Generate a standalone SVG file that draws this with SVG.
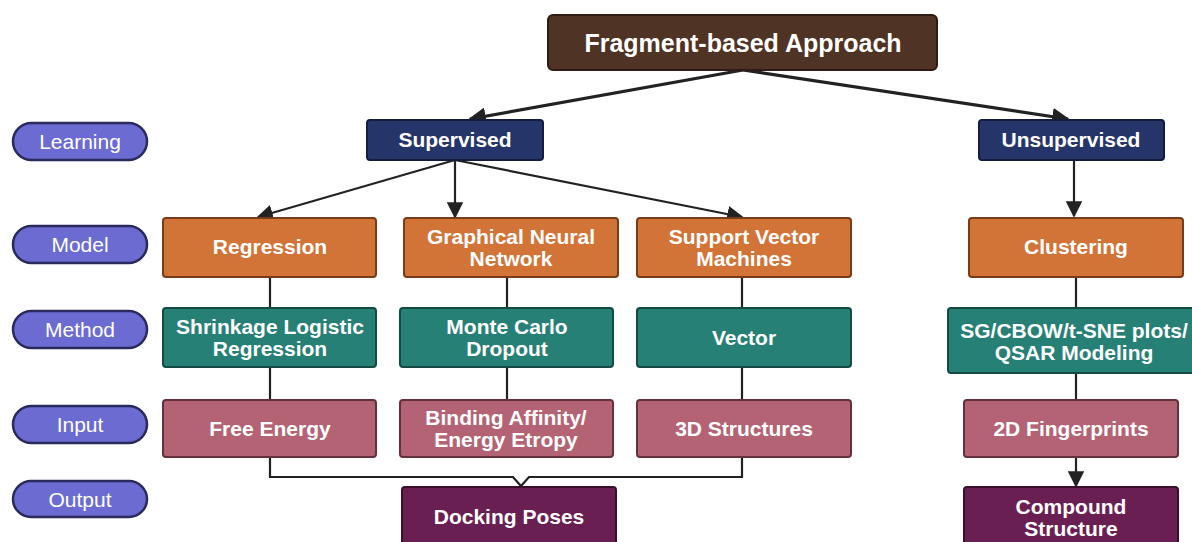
<svg xmlns="http://www.w3.org/2000/svg" width="1192" height="542" viewBox="0 0 1192 542">
  <style>
    .node text { font-family: "Liberation Sans", Arial, sans-serif; font-weight: bold; fill: #ffffff; text-anchor: middle; font-size: 21px; }
    .pill rect { fill: #6b6bd2; stroke: #2b2a5c; stroke-width: 2.5; }
    .pill text { font-family: "Liberation Sans", Arial, sans-serif; font-size: 21px; fill: #ffffff; text-anchor: middle; }
    .root rect { fill: #4f3324; stroke: #2e1c12; stroke-width: 2; }
    .learn rect { fill: #263569; stroke: #141d40; stroke-width: 2; }
    .model rect { fill: #d27337; stroke: #7a3b17; stroke-width: 2; }
    .method rect { fill: #268075; stroke: #134a42; stroke-width: 2; }
    .input rect { fill: #b46374; stroke: #63303b; stroke-width: 2; }
    .output rect { fill: #6a1f53; stroke: #3a0e2d; stroke-width: 2; }
    .conn path, .conn line { stroke: #222222; fill: none; stroke-width: 2.2; }
    .conn .thick { stroke-width: 3.2; }
  </style>
  <defs>
    <marker id="head" viewBox="0 0 10 10" refX="9" refY="5" markerWidth="7.5" markerHeight="7.5" orient="auto" markerUnits="strokeWidth">
      <path d="M0,0 L10,5 L0,10 z" fill="#222222"/>
    </marker>
    <marker id="headThick" viewBox="0 0 10 10" refX="9" refY="5" markerWidth="5.5" markerHeight="5.5" orient="auto" markerUnits="strokeWidth">
      <path d="M0,0 L10,5 L0,10 z" fill="#222222"/>
    </marker>
  </defs>

  <rect width="1192" height="542" fill="#ffffff"/>

  <!-- connectors -->
  <g class="conn">
    <line class="thick" x1="743" y1="70" x2="470" y2="119" marker-end="url(#headThick)"/>
    <line class="thick" x1="743" y1="70" x2="1068" y2="119" marker-end="url(#headThick)"/>
    <line x1="455" y1="160" x2="258" y2="217" marker-end="url(#head)"/>
    <line x1="455" y1="160" x2="455" y2="217" marker-end="url(#head)"/>
    <line x1="455" y1="160" x2="742" y2="217" marker-end="url(#head)"/>
    <line x1="1074" y1="161" x2="1074" y2="216" marker-end="url(#head)"/>
    <line x1="270" y1="277" x2="270" y2="308"/>
    <line x1="270" y1="367" x2="270" y2="399"/>
    <line x1="507" y1="277" x2="507" y2="308"/>
    <line x1="507" y1="367" x2="507" y2="399"/>
    <line x1="742" y1="277" x2="742" y2="308"/>
    <line x1="742" y1="367" x2="742" y2="399"/>
    <line x1="1076" y1="277" x2="1076" y2="308"/>
    <line x1="1076" y1="373" x2="1076" y2="399"/>
    <line x1="1076" y1="457" x2="1076" y2="486" marker-end="url(#head)"/>
    <path d="M270,457 V477 H513 L521,486 L529,477 H742 V457"/>
  </g>

  <!-- row labels -->
  <g id="label-learning" class="pill"><rect x="13" y="123" width="134" height="37" rx="18.5"/><text x="80" y="149">Learning</text></g>
  <g id="label-model" class="pill"><rect x="13" y="226" width="134" height="37" rx="18.5"/><text x="80" y="252">Model</text></g>
  <g id="label-method" class="pill"><rect x="13" y="311" width="134" height="37" rx="18.5"/><text x="80" y="337">Method</text></g>
  <g id="label-input" class="pill"><rect x="13" y="406" width="134" height="37" rx="18.5"/><text x="80" y="432">Input</text></g>
  <g id="label-output" class="pill"><rect x="13" y="481" width="134" height="36" rx="18"/><text x="80" y="507">Output</text></g>

  <!-- root -->
  <g id="fragment-based" class="node root"><rect x="548" y="15" width="389" height="55" rx="5"/><text x="743" y="52" style="font-size:25px">Fragment-based Approach</text></g>

  <!-- learning -->
  <g id="supervised" class="node learn"><rect x="367" y="120" width="176" height="40" rx="3"/><text x="455" y="147">Supervised</text></g>
  <g id="unsupervised" class="node learn"><rect x="979" y="120" width="185" height="40" rx="3"/><text x="1071" y="147">Unsupervised</text></g>

  <!-- models -->
  <g id="regression" class="node model"><rect x="163" y="218" width="213" height="59" rx="3"/><text x="270" y="254">Regression</text></g>
  <g id="gnn" class="node model"><rect x="404" y="218" width="214" height="59" rx="3"/><text x="511" y="244">Graphical Neural</text><text x="511" y="266">Network</text></g>
  <g id="svm" class="node model"><rect x="637" y="218" width="214" height="59" rx="3"/><text x="744" y="244">Support Vector</text><text x="744" y="266">Machines</text></g>
  <g id="clustering" class="node model"><rect x="969" y="218" width="214" height="59" rx="3"/><text x="1076" y="254">Clustering</text></g>

  <!-- methods -->
  <g id="shrinkage" class="node method"><rect x="163" y="308" width="213" height="59" rx="3"/><text x="270" y="334">Shrinkage Logistic</text><text x="270" y="356">Regression</text></g>
  <g id="monte-carlo" class="node method"><rect x="400" y="308" width="213" height="59" rx="3"/><text x="507" y="334">Monte Carlo</text><text x="507" y="356">Dropout</text></g>
  <g id="vector" class="node method"><rect x="637" y="308" width="214" height="59" rx="3"/><text x="744" y="345">Vector</text></g>
  <g id="sg-cbow" class="node method"><rect x="948" y="308" width="254" height="65" rx="3"/><text x="1074" y="338">SG/CBOW/t-SNE plots/</text><text x="1074" y="360">QSAR Modeling</text></g>

  <!-- inputs -->
  <g id="free-energy" class="node input"><rect x="163" y="400" width="213" height="57" rx="3"/><text x="270" y="436">Free Energy</text></g>
  <g id="binding" class="node input"><rect x="400" y="400" width="213" height="57" rx="3"/><text x="506" y="425">Binding Affinity/</text><text x="506" y="447">Energy Etropy</text></g>
  <g id="structures-3d" class="node input"><rect x="637" y="400" width="214" height="57" rx="3"/><text x="744" y="436">3D Structures</text></g>
  <g id="fingerprints-2d" class="node input"><rect x="964" y="400" width="214" height="57" rx="3"/><text x="1071" y="436">2D Fingerprints</text></g>

  <!-- outputs -->
  <g id="docking-poses" class="node output"><rect x="402" y="487" width="214" height="70" rx="3"/><text x="509" y="524">Docking Poses</text></g>
  <g id="compound-structure" class="node output"><rect x="964" y="487" width="214" height="70" rx="3"/><text x="1071" y="514">Compound</text><text x="1071" y="536">Structure</text></g>
</svg>
